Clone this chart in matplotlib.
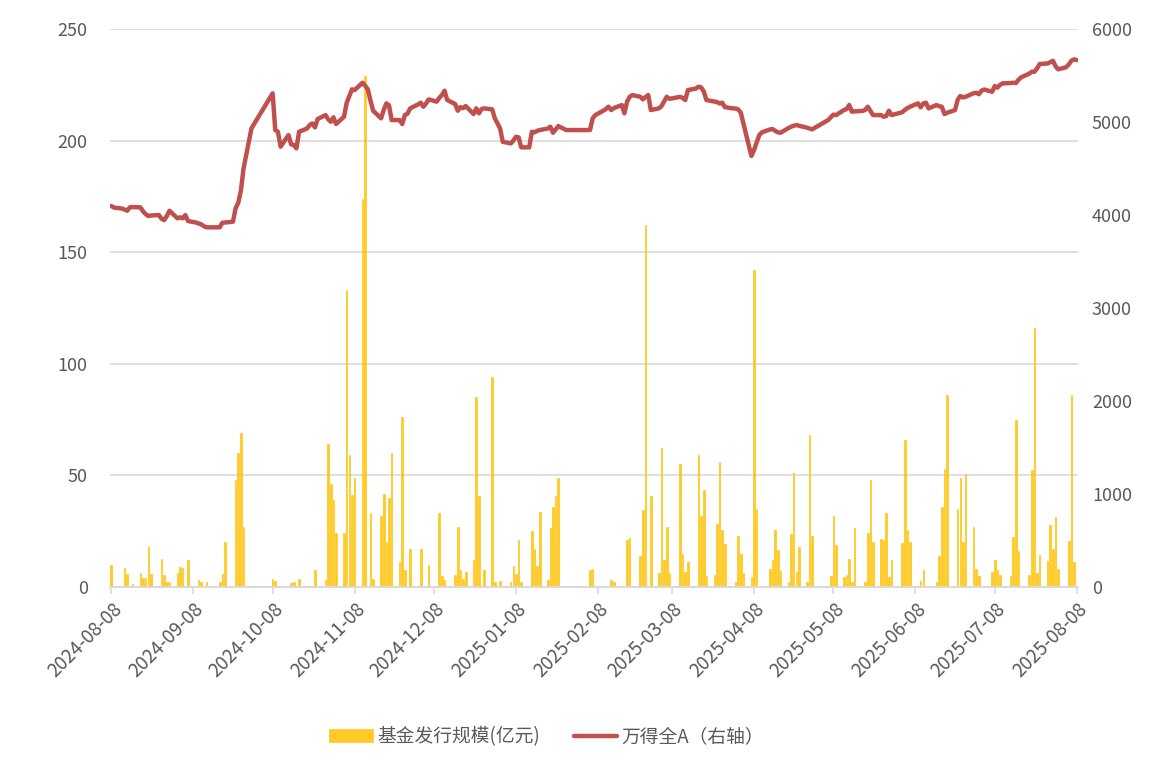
import pandas as pd
import matplotlib
matplotlib.use('Agg')
import matplotlib.pyplot as plt
import matplotlib.dates as mdates

plt.rcParams['font.family'] = ['Noto Sans CJK SC', 'DejaVu Sans']

# 基金发行规模(亿元), 按日
bar_dates = [
    '2024-08-08', '2024-08-13', '2024-08-14', '2024-08-16', '2024-08-19', '2024-08-20', '2024-08-21',
    '2024-08-22', '2024-08-23', '2024-08-26', '2024-08-27', '2024-08-28', '2024-08-29', '2024-08-30',
    '2024-09-02', '2024-09-03', '2024-09-04', '2024-09-06', '2024-09-10', '2024-09-11', '2024-09-13',
    '2024-09-18', '2024-09-19', '2024-09-20', '2024-09-24', '2024-09-25', '2024-09-26', '2024-09-27',
    '2024-10-08', '2024-10-09', '2024-10-15', '2024-10-16', '2024-10-18', '2024-10-21', '2024-10-22',
    '2024-10-24', '2024-10-28', '2024-10-29', '2024-10-30', '2024-10-31', '2024-11-01', '2024-11-04',
    '2024-11-05', '2024-11-06', '2024-11-07', '2024-11-08', '2024-11-11', '2024-11-12', '2024-11-14',
    '2024-11-15', '2024-11-18', '2024-11-19', '2024-11-20', '2024-11-21', '2024-11-22', '2024-11-25',
    '2024-11-26', '2024-11-27', '2024-11-29', '2024-12-03', '2024-12-06', '2024-12-10', '2024-12-11',
    '2024-12-12', '2024-12-16', '2024-12-17', '2024-12-18', '2024-12-19', '2024-12-20', '2024-12-23',
    '2024-12-24', '2024-12-25', '2024-12-27', '2024-12-30', '2024-12-31',
    '2025-01-02', '2025-01-06', '2025-01-07', '2025-01-08', '2025-01-09', '2025-01-10', '2025-01-14',
    '2025-01-15', '2025-01-16', '2025-01-17', '2025-01-20', '2025-01-21', '2025-01-22', '2025-01-23',
    '2025-01-24', '2025-02-05', '2025-02-06', '2025-02-13', '2025-02-14', '2025-02-19', '2025-02-20',
    '2025-02-24', '2025-02-25', '2025-02-26', '2025-02-28', '2025-03-03', '2025-03-04', '2025-03-05',
    '2025-03-06', '2025-03-07', '2025-03-11', '2025-03-12', '2025-03-13', '2025-03-14', '2025-03-18',
    '2025-03-19', '2025-03-20', '2025-03-21', '2025-03-24', '2025-03-25', '2025-03-26', '2025-03-27',
    '2025-03-28', '2025-04-01', '2025-04-02', '2025-04-03', '2025-04-04', '2025-04-07', '2025-04-08',
    '2025-04-09', '2025-04-14', '2025-04-15', '2025-04-16', '2025-04-17', '2025-04-18', '2025-04-21',
    '2025-04-22', '2025-04-23', '2025-04-24', '2025-04-25', '2025-04-28', '2025-04-29', '2025-04-30',
    '2025-05-07', '2025-05-08', '2025-05-09', '2025-05-12', '2025-05-13', '2025-05-14', '2025-05-15',
    '2025-05-16', '2025-05-20', '2025-05-21', '2025-05-22', '2025-05-23', '2025-05-26', '2025-05-27',
    '2025-05-28', '2025-05-29', '2025-05-30', '2025-06-03', '2025-06-04', '2025-06-05', '2025-06-06',
    '2025-06-10', '2025-06-11', '2025-06-16', '2025-06-17', '2025-06-18', '2025-06-19', '2025-06-20',
    '2025-06-24', '2025-06-25', '2025-06-26', '2025-06-27', '2025-06-30', '2025-07-01', '2025-07-02',
    '2025-07-07', '2025-07-08', '2025-07-09', '2025-07-10', '2025-07-14', '2025-07-15', '2025-07-16',
    '2025-07-17', '2025-07-21', '2025-07-22', '2025-07-23', '2025-07-24', '2025-07-25', '2025-07-28',
    '2025-07-29', '2025-07-30', '2025-07-31', '2025-08-01', '2025-08-05', '2025-08-06', '2025-08-07',
]
bar_vals = [
    10, 8.5, 5.7, 1.2, 6.3, 4, 4,
    17.9, 5.7, 0.5, 12.7, 5.2, 2.2, 2.2,
    6.3, 9, 8.5, 12, 3, 2.2, 2.2,
    2.2, 5.7, 20, 47.8, 60, 69, 27,
    3.4, 2.7, 1.8, 2.2, 3.4, 0.5, 0.5,
    7.8, 3, 64, 46, 39, 24, 24,
    133, 59, 41, 49, 174, 229, 33,
    3.7, 32, 41.5, 20, 40, 60, 11,
    76, 7.5, 17, 17, 10, 33, 5,
    3, 5.5, 27, 7.5, 3.7, 6.7, 12,
    85, 40.6, 7.8, 94, 2.2,
    2.7, 2.2, 9.3, 5.7, 21, 2.2, 25,
    17, 9.3, 33.6, 3, 26.6, 36, 40.6,
    49, 7.5, 8, 3, 2.2, 21, 22,
    14, 34.6, 162, 40.6, 6.3, 62.5, 12,
    27, 6.3, 55, 15, 6.7, 11, 59,
    32, 43.6, 4.8, 5.5, 28, 56, 25.7,
    19.4, 2.2, 23, 15, 6.3, 4.5, 142,
    35, 8, 12, 25.4, 16.7, 7, 2.2,
    23.6, 51, 6.7, 17.7, 2.2, 68, 23,
    4.8, 31.7, 19, 4.5, 5.5, 12.4, 2.2,
    26.5, 2.2, 24, 48, 20, 21.6, 21,
    33, 4.5, 12, 19.7, 65.7, 25.4, 20,
    2.7, 7.5, 2.2, 13.8, 36, 53, 86,
    35, 49, 20, 50.5, 27, 8.2, 4.8,
    6.7, 12, 7.8, 5.5, 5, 22.4, 75,
    16, 5.5, 52.6, 116, 6.3, 14.5, 11.5,
    27.6, 17, 31.5, 8, 20.8, 86, 11,
]

# 万得全A 收盘 (右轴)
line_dates = [
    '2024-08-08', '2024-08-09', '2024-08-12', '2024-08-13', '2024-08-14', '2024-08-15', '2024-08-16',
    '2024-08-19', '2024-08-20', '2024-08-21', '2024-08-22', '2024-08-23', '2024-08-26', '2024-08-27',
    '2024-08-28', '2024-08-29', '2024-08-30', '2024-09-02', '2024-09-03', '2024-09-04', '2024-09-05',
    '2024-09-06', '2024-09-09', '2024-09-10', '2024-09-11', '2024-09-12', '2024-09-13', '2024-09-18',
    '2024-09-19', '2024-09-20', '2024-09-23', '2024-09-24', '2024-09-25', '2024-09-26', '2024-09-27',
    '2024-09-30', '2024-10-08', '2024-10-09', '2024-10-10', '2024-10-11', '2024-10-14', '2024-10-15',
    '2024-10-16', '2024-10-17', '2024-10-18', '2024-10-21', '2024-10-22', '2024-10-23', '2024-10-24',
    '2024-10-25', '2024-10-28', '2024-10-29', '2024-10-30', '2024-10-31', '2024-11-01', '2024-11-04',
    '2024-11-05', '2024-11-06', '2024-11-07', '2024-11-08', '2024-11-11', '2024-11-12', '2024-11-13',
    '2024-11-14', '2024-11-15', '2024-11-18', '2024-11-19', '2024-11-20', '2024-11-21', '2024-11-22',
    '2024-11-25', '2024-11-26', '2024-11-27', '2024-11-28', '2024-11-29', '2024-12-02', '2024-12-03',
    '2024-12-04', '2024-12-05', '2024-12-06', '2024-12-09', '2024-12-10', '2024-12-11', '2024-12-12',
    '2024-12-13', '2024-12-16', '2024-12-17', '2024-12-18', '2024-12-19', '2024-12-20', '2024-12-23',
    '2024-12-24', '2024-12-25', '2024-12-26', '2024-12-27', '2024-12-30', '2024-12-31',
    '2025-01-02', '2025-01-03', '2025-01-06', '2025-01-07', '2025-01-08', '2025-01-09', '2025-01-10',
    '2025-01-13', '2025-01-14', '2025-01-15', '2025-01-16', '2025-01-17', '2025-01-20', '2025-01-21',
    '2025-01-22', '2025-01-23', '2025-01-24', '2025-01-27', '2025-02-05', '2025-02-06', '2025-02-07',
    '2025-02-10', '2025-02-11', '2025-02-12', '2025-02-13', '2025-02-14', '2025-02-17', '2025-02-18',
    '2025-02-19', '2025-02-20', '2025-02-21', '2025-02-24', '2025-02-25', '2025-02-26', '2025-02-27',
    '2025-02-28', '2025-03-03', '2025-03-04', '2025-03-05', '2025-03-06', '2025-03-07', '2025-03-10',
    '2025-03-11', '2025-03-12', '2025-03-13', '2025-03-14', '2025-03-17', '2025-03-18', '2025-03-19',
    '2025-03-20', '2025-03-21', '2025-03-24', '2025-03-25', '2025-03-26', '2025-03-27', '2025-03-28',
    '2025-03-31', '2025-04-01', '2025-04-02', '2025-04-03', '2025-04-07', '2025-04-08', '2025-04-09',
    '2025-04-10', '2025-04-11', '2025-04-14', '2025-04-15', '2025-04-16', '2025-04-17', '2025-04-18',
    '2025-04-21', '2025-04-22', '2025-04-23', '2025-04-24', '2025-04-25', '2025-04-28', '2025-04-29',
    '2025-04-30', '2025-05-06', '2025-05-07', '2025-05-08', '2025-05-09', '2025-05-12', '2025-05-13',
    '2025-05-14', '2025-05-15', '2025-05-16', '2025-05-19', '2025-05-20', '2025-05-21', '2025-05-22',
    '2025-05-23', '2025-05-26', '2025-05-27', '2025-05-28', '2025-05-29', '2025-05-30', '2025-06-03',
    '2025-06-04', '2025-06-05', '2025-06-06', '2025-06-09', '2025-06-10', '2025-06-11', '2025-06-12',
    '2025-06-13', '2025-06-16', '2025-06-17', '2025-06-18', '2025-06-19', '2025-06-20', '2025-06-23',
    '2025-06-24', '2025-06-25', '2025-06-26', '2025-06-27', '2025-06-30', '2025-07-01', '2025-07-02',
    '2025-07-03', '2025-07-04', '2025-07-07', '2025-07-08', '2025-07-09', '2025-07-10', '2025-07-11',
    '2025-07-14', '2025-07-15', '2025-07-16', '2025-07-17', '2025-07-18', '2025-07-21', '2025-07-22',
    '2025-07-23', '2025-07-24', '2025-07-25', '2025-07-28', '2025-07-29', '2025-07-30', '2025-07-31',
    '2025-08-01', '2025-08-04', '2025-08-05', '2025-08-06', '2025-08-07', '2025-08-08',
]
line_vals = [
    4097, 4080, 4070, 4060, 4046, 4083, 4085,
    4083, 4040, 4010, 3989, 3995, 4000, 3960,
    3946, 3990, 4046, 3965, 3975, 3965, 4000,
    3935, 3920, 3910, 3900, 3880, 3868, 3868,
    3917, 3920, 3928, 4072, 4132, 4260, 4500,
    4932, 5309, 4914, 4896, 4735, 4860, 4760,
    4753, 4717, 4896, 4930, 4968, 4985, 4943,
    5032, 5075, 5030, 5003, 5051, 4979, 5057,
    5208, 5280, 5352, 5344, 5423, 5390, 5352,
    5230, 5122, 5040, 5130, 5201, 5180, 5021,
    5021, 4979, 5075, 5090, 5147, 5190, 5208,
    5165, 5200, 5244, 5219, 5260, 5290, 5337,
    5237, 5194, 5122, 5160, 5150, 5172, 5086,
    5147, 5094, 5140, 5147, 5137, 5040,
    4932, 4788, 4770, 4800, 4842, 4835, 4728,
    4728, 4896, 4890, 4905, 4914, 4930, 4950,
    4885, 4920, 4957, 4914, 4914, 5040, 5075,
    5122, 5140, 5165, 5129, 5150, 5183, 5094,
    5220, 5272, 5290, 5272, 5244, 5270, 5290,
    5129, 5147, 5170, 5220, 5272, 5250, 5265,
    5272, 5260, 5237, 5344, 5360, 5380, 5373,
    5330, 5237, 5220, 5215, 5200, 5208, 5160,
    5147, 5145, 5137, 5100, 4635, 4700, 4780,
    4860, 4890, 4920, 4925, 4905, 4890, 4885,
    4935, 4950, 4960, 4968, 4960, 4940, 4930,
    4922, 5021, 5050, 5080, 5075, 5129, 5140,
    5183, 5111, 5115, 5120, 5129, 5165, 5120,
    5075, 5075, 5057, 5065, 5122, 5075, 5105,
    5130, 5150, 5165, 5201, 5158, 5200, 5208,
    5147, 5183, 5170, 5165, 5086, 5100, 5129,
    5240, 5280, 5265, 5272, 5310, 5315, 5300,
    5337, 5350, 5326, 5387, 5370, 5400, 5416,
    5420, 5423, 5420, 5455, 5481, 5520, 5541,
    5540, 5577, 5624, 5630, 5645, 5659, 5600,
    5567, 5590, 5620, 5660, 5674, 5667,
]

tick_dates = pd.date_range('2024-08-08', '2025-08-08', freq=pd.DateOffset(months=1))

bar_x = pd.to_datetime(bar_dates)
line_x = pd.to_datetime(line_dates)

grey = '#595959'
fig = plt.figure(figsize=(11.76, 7.65), dpi=100)
ax = fig.add_axes([0.0935, 0.2327, 0.8232, 0.7293])
ax2 = ax.twinx()

ax.bar(bar_x, bar_vals, width=0.6, color='#FFC000', edgecolor='#FFC000', linewidth=0.5,
       alpha=0.85, label='基金发行规模(亿元)', zorder=2)
ax2.plot(line_x, line_vals, color='#C0504D', lw=3.2, solid_joinstyle='round',
         solid_capstyle='round', label='万得全A（右轴）', zorder=3)

ax.set_ylim(0, 250)
ax.set_yticks(range(0, 251, 50))
ax2.set_ylim(0, 6000)
ax2.set_yticks(range(0, 6001, 1000))
ax.set_xlim(pd.Timestamp('2024-08-07 12:00'), pd.Timestamp('2025-08-08 12:00'))

ax.grid(axis='y', color='#D9D9D9', lw=1.2, zorder=0)
ax.set_axisbelow(True)
for a in (ax, ax2):
    for s in ('top', 'left', 'right'):
        a.spines[s].set_visible(False)
    a.spines['bottom'].set_color('#D9D9D9')
    a.spines['bottom'].set_linewidth(1.2)
    a.tick_params(axis='y', length=0, labelsize=13, labelcolor=grey)

ax.tick_params(axis='y', pad=16)
ax2.tick_params(axis='y', pad=10)
ax.set_xticks(tick_dates)
ax.xaxis.set_major_formatter(mdates.DateFormatter('%Y-%m-%d'))
ax.tick_params(axis='x', length=5, color='#D9D9D9', width=1.2, labelsize=13.5, labelcolor=grey)
plt.setp(ax.get_xticklabels(), rotation=45, ha='right', rotation_mode='anchor')

h1, l1 = ax.get_legend_handles_labels()
h2, l2 = ax2.get_legend_handles_labels()
leg = fig.legend(h1 + h2, l1 + l2, loc='center', bbox_to_anchor=(0.465, 0.037), ncol=2,
                 frameon=False, fontsize=13.5, handlelength=2.3, handleheight=0.7,
                 handletextpad=0.25, columnspacing=1.8)
for t in leg.get_texts():
    t.set_color(grey)

fig.savefig('out.png', dpi=100)
